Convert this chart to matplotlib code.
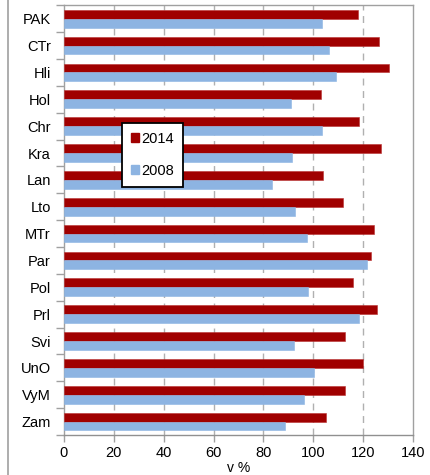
import matplotlib
matplotlib.use("Agg")
import matplotlib.pyplot as plt
import numpy as np
from matplotlib.patches import Patch
from matplotlib.lines import Line2D

plt.rcParams['font.family'] = ['Liberation Sans', 'DejaVu Sans']

categories = ["PAK", "CTr", "Hli", "Hol", "Chr", "Kra", "Lan", "Lto",
              "MTr", "Par", "Pol", "Prl", "Svi", "UnO", "VyM", "Zam"]
values_2014 = [117.9, 126.2, 130.4, 103.2, 118.5, 127.3, 103.8, 112.1,
               124.4, 123.0, 116.1, 125.6, 112.6, 119.8, 112.6, 105.2]
values_2008 = [103.4, 106.2, 109.2, 91.1, 103.4, 91.5, 83.3, 92.7,
               97.3, 121.6, 97.9, 118.5, 92.3, 100.2, 96.4, 88.6]
xticks = [0, 20, 40, 60, 80, 100, 120, 140]

RED = '#A00000'
BLUE = '#8DB4E2'
GRAY = '#A0A0A0'

fig = plt.figure(figsize=(4.31, 4.75), dpi=100)
ax = fig.add_axes([64/431, 1-435/475, (413-64)/431, (435-5.3)/475])

y = np.arange(len(categories))
h = 0.33
ax.barh(y - h/2, values_2014, height=h, color=RED, edgecolor='#B83030', linewidth=0.4, zorder=3)
ax.barh(y + h/2, values_2008, height=h, color=BLUE, edgecolor=BLUE, linewidth=0.4, zorder=3)

ax.set_ylim(len(categories) - 0.5, -0.5)
ax.set_xlim(0, 140)
ax.set_xticks(xticks)
ax.set_xticklabels([str(v) for v in xticks], fontsize=10.5)
ax.set_yticks(y)
ax.set_yticklabels(categories, fontsize=10.5)
ax.set_yticks(np.arange(len(categories) + 1) - 0.5, minor=True)
ax.tick_params(axis='y', which='major', length=0, pad=9.5)
ax.tick_params(axis='y', which='minor', length=6, color=GRAY, width=1, direction='out')
ax.tick_params(axis='x', which='major', length=5, color=GRAY, width=1, direction='out', pad=3)

for xv in xticks[1:-1]:
    ax.axvline(xv, color='#B0B0B0', linestyle=(0, (5, 4)), linewidth=1, zorder=1)

for s in ax.spines.values():
    s.set_color(GRAY)
    s.set_linewidth(1)
ax.spines['bottom'].set_color('#909090')

ax.set_xlabel("v %", fontsize=10, labelpad=1)

handles = [Patch(facecolor=RED, edgecolor=RED), Patch(facecolor=BLUE, edgecolor=BLUE)]
leg = ax.legend(handles, ["2014", "2008"], loc='upper left',
                bbox_to_anchor=(0.166, 0.726), borderaxespad=0,
                fontsize=10.5, handlelength=0.55, handleheight=0.55,
                handletextpad=0.2, labelspacing=1.25, borderpad=0.6,
                fancybox=False, framealpha=1, edgecolor='black')
leg.get_frame().set_linewidth(1.3)
leg.set_zorder(5)

fig.add_artist(Line2D([8/431, 8/431], [0, 1], color=GRAY, linewidth=1.2))

fig.savefig("out.png", dpi=100)
